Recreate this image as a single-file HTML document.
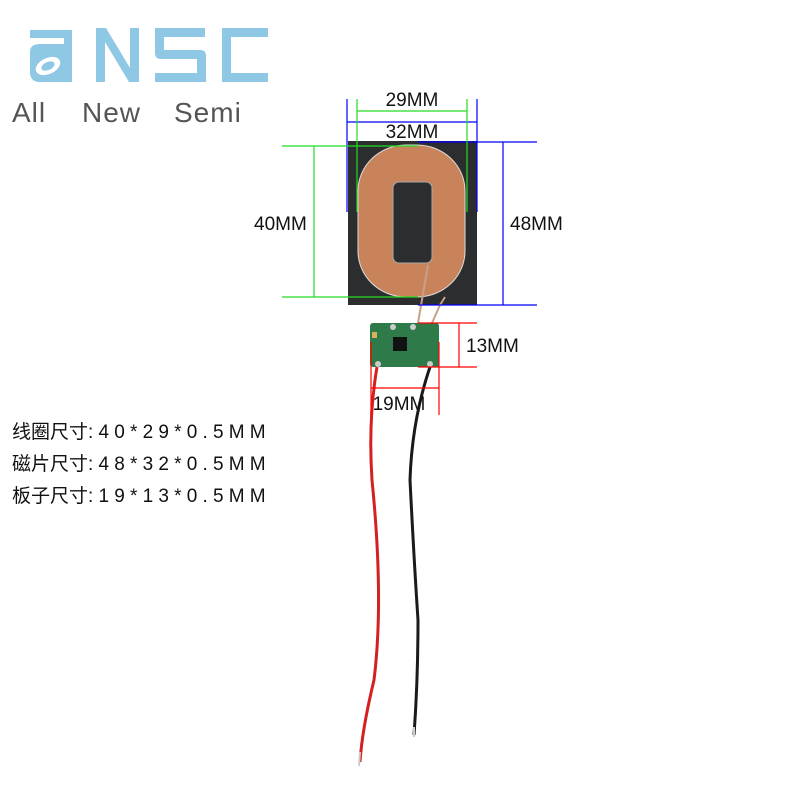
<!DOCTYPE html>
<html><head><meta charset="utf-8"><style>
html,body{margin:0;padding:0;background:#fff;}
.t{position:absolute;left:12px;font:19px "Liberation Sans","Noto Sans CJK SC",sans-serif;color:#111;white-space:nowrap}
.t span{letter-spacing:5.2px}
</style></head><body>
<div style="position:relative;width:800px;height:800px;overflow:hidden">
<svg width="800" height="800" style="position:absolute;left:0;top:0" font-family="Liberation Sans, sans-serif">
<g fill="#8fc8e4">
<path d="M30 30 H72 V82 H40 Q30 82 30 72 V52 Q30 44 40 44 H64 V38 H30 Z"/>
<ellipse cx="48" cy="66" rx="13" ry="8" fill="#fff" transform="rotate(-25 48 66)"/>
<ellipse cx="48" cy="66" rx="7" ry="4" fill="#8fc8e4" transform="rotate(-25 48 66)"/>
<path d="M96 28 H106 L130 68 V28 H139 V82 H129 L105 42 V82 H96 Z"/>
<path d="M155 28 H205 V37 H164 V50 H200 Q206 50 206 56 V82 H155 V73 H197 V59 H161 Q155 59 155 53 Z"/>
<path d="M222 28 H268 V37 H231 V73 H268 V82 H222 Z"/>
</g>
<text x="12" y="122" font-size="28" fill="#555" letter-spacing="1">All</text>
<text x="82" y="122" font-size="28" fill="#555" letter-spacing="1">New</text>
<text x="174" y="122" font-size="28" fill="#555" letter-spacing="1">Semi</text>
<rect x="348" y="141" width="129" height="164" fill="#2b2d2e"/>
<rect x="358" y="145" width="107" height="152" rx="48" ry="46" fill="#c9835a" stroke="#ddd" stroke-width="1"/>
<rect x="393" y="182" width="39" height="81" rx="6" fill="#2b2d2e" stroke="#aaa"/>
<path d="M440 305 L432 323 M445 297 L440 305 M428 265 L418 323" stroke="#c8a08a" stroke-width="2" fill="none"/>
<rect x="370" y="323" width="69" height="44" rx="3" fill="#2e7a48"/>
<rect x="393" y="337" width="14" height="14" fill="#111"/>
<circle cx="393" cy="327" r="3" fill="#ccc"/><circle cx="413" cy="327" r="3" fill="#ccc"/>
<circle cx="378" cy="364" r="3" fill="#ccc"/><circle cx="430" cy="364" r="3" fill="#ccc"/>
<rect x="372" y="332" width="5" height="6" fill="#d8b060"/>
<path d="M377 367 Q368 420 372 480 Q384 600 374 680 Q362 730 360 762" stroke="#d42020" stroke-width="3" fill="none"/>
<path d="M430 367 Q412 420 410 480 Q414 560 418 620 Q418 680 414 735" stroke="#1a1a1a" stroke-width="3" fill="none"/>
<line x1="360" y1="752" x2="359" y2="766" stroke="#ccc" stroke-width="2"/>
<line x1="414" y1="727" x2="414" y2="737" stroke="#ccc" stroke-width="2"/>
<g stroke="#0000ff" stroke-width="1.2">
<line x1="347" y1="99" x2="347" y2="212"/><line x1="477" y1="99" x2="477" y2="212"/>
<line x1="347" y1="122" x2="477" y2="122"/>
<line x1="418" y1="142" x2="537" y2="142"/><line x1="418" y1="305" x2="537" y2="305"/>
<line x1="503" y1="142" x2="503" y2="305"/>
</g>
<g stroke="#22dd22" stroke-width="1.2">
<line x1="357" y1="99" x2="357" y2="212"/><line x1="467" y1="99" x2="467" y2="212"/>
<line x1="357" y1="111" x2="467" y2="111"/>
<line x1="282" y1="146" x2="418" y2="146"/><line x1="282" y1="297" x2="418" y2="297"/>
<line x1="314" y1="146" x2="314" y2="297"/>
</g>
<g stroke="#ff0000" stroke-width="1.2">
<line x1="418" y1="323" x2="477" y2="323"/><line x1="418" y1="367" x2="477" y2="367"/>
<line x1="459" y1="323" x2="459" y2="367"/>
<line x1="371" y1="342" x2="371" y2="415"/><line x1="439" y1="342" x2="439" y2="415"/>
<line x1="371" y1="388" x2="439" y2="388"/>
</g>
<g font-size="19" fill="#111">
<text x="412" y="106" text-anchor="middle">29MM</text>
<text x="412" y="138" text-anchor="middle">32MM</text>
<text x="254" y="230">40MM</text>
<text x="510" y="230">48MM</text>
<text x="466" y="352">13MM</text>
<text x="399" y="410" text-anchor="middle">19MM</text>
</g>
</svg>
<div class="t" style="top:417px">线圈尺寸<span>:40*29*0.5MM</span></div>
<div class="t" style="top:449px">磁片尺寸<span>:48*32*0.5MM</span></div>
<div class="t" style="top:481px">板子尺寸<span>:19*13*0.5MM</span></div>
</div>
</body></html>
